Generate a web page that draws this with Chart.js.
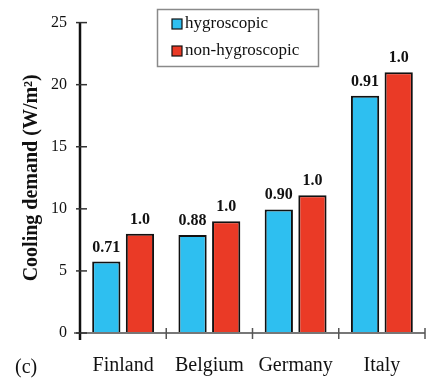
<!DOCTYPE html>
<html>
<head>
<meta charset="utf-8">
<script src="https://cdn.jsdelivr.net/npm/chart.js@4/dist/chart.umd.min.js"></script>
<style>
  html, body { margin: 0; padding: 0; background: #fff; }
  #wrap { width: 429px; height: 379px; }
</style>
</head>
<body>
<div id="wrap"><canvas id="cooling" width="429" height="379"></canvas></div>
<script>
// data
const countries = ["Finland", "Belgium", "Germany", "Italy"]
const hygroscopic = [5.75, 7.9, 9.95, 19.1]
const non_hygroscopic = [8.0, 9.0, 11.1, 21.0]
const hygro_labels = ["0.71", "0.88", "0.90", "0.91"]
const non_hygro_labels = ["1.0", "1.0", "1.0", "1.0"]
const y_ticks = [0, 5, 10, 15, 20, 25]

const serif = "'Liberation Serif', 'Times New Roman', serif"
const blue = "#2ebff0"
const red = "#ea3a26"

// value labels, axis ticks, legend box and panel letter
const extras = {
    id: "extras",
    afterDraw(chart) {
        const ctx = chart.ctx
        const area = chart.chartArea
        const x = chart.scales.x
        const y = chart.scales.y
        ctx.save()

        // x axis line, starts a little left of the y axis
        ctx.strokeStyle = "#777"
        ctx.lineWidth = 2
        ctx.beginPath()
        ctx.moveTo(area.left - 6, area.bottom)
        ctx.lineTo(area.right, area.bottom)
        ctx.stroke()

        // y axis line (runs a bit below the x axis)
        ctx.strokeStyle = "#111"
        ctx.lineWidth = 2.5
        ctx.beginPath()
        ctx.moveTo(area.left, area.top)
        ctx.lineTo(area.left, area.bottom + 7)
        ctx.stroke()

        // y ticks crossing the axis
        ctx.lineWidth = 1.5
        ctx.strokeStyle = "#333"
        for (let i in y_ticks) {
            let py = y.getPixelForValue(y_ticks[i])
            ctx.beginPath()
            ctx.moveTo(area.left - 4, py)
            ctx.lineTo(area.left + 7, py)
            ctx.stroke()
        }

        // x ticks at category boundaries
        ctx.strokeStyle = "#555"
        for (let i = 1; i <= countries.length; i++) {
            let px = (i < countries.length)
                ? (x.getPixelForValue(i - 1) + x.getPixelForValue(i)) / 2
                : area.right
            ctx.beginPath()
            ctx.moveTo(px, area.bottom - 5)
            ctx.lineTo(px, area.bottom + 6)
            ctx.stroke()
        }

        // values over bars
        ctx.fillStyle = "#111"
        ctx.font = "bold 16px " + serif
        ctx.textAlign = "center"
        ctx.textBaseline = "alphabetic"
        const label_sets = [hygro_labels, non_hygro_labels]
        chart.data.datasets.forEach((ds, di) => {
            chart.getDatasetMeta(di).data.forEach((bar, i) => {
                ctx.fillText(label_sets[di][i], bar.x, bar.y - 10)
            })
        })

        // legend
        ctx.strokeStyle = "#8a8a8a"
        ctx.lineWidth = 1.5
        ctx.strokeRect(157.5, 9.5, 161, 57)
        ctx.font = "17px " + serif
        ctx.textAlign = "left"
        ctx.textBaseline = "middle"
        chart.data.datasets.forEach((ds, di) => {
            let ly = 24 + di * 27
            ctx.fillStyle = ds.backgroundColor
            ctx.fillRect(172, ly - 5, 10, 10)
            ctx.strokeStyle = "#111"
            ctx.lineWidth = 1.2
            ctx.strokeRect(172, ly - 5, 10, 10)
            ctx.fillStyle = "#111"
            ctx.fillText(ds.label, 185, ly)
        })

        // panel letter
        ctx.font = "20px " + serif
        ctx.textBaseline = "alphabetic"
        ctx.fillText("(c)", 15, 373)
        ctx.restore()
    }
}

const ctx1 = document.getElementById("cooling").getContext("2d")
const myChart = new Chart(ctx1, {
    type: "bar",
    data: {
        labels: countries,
        datasets: [{
                label: "hygroscopic",
                data: hygroscopic,
                backgroundColor: blue,
                borderColor: "#111",
                borderWidth: 2,
                categoryPercentage: 0.78,
                barPercentage: 0.84
            }, {
                label: "non-hygroscopic",
                data: non_hygroscopic,
                backgroundColor: red,
                borderColor: "#111",
                borderWidth: 2,
                categoryPercentage: 0.78,
                barPercentage: 0.84
            }
        ]
    },
    options: {
        responsive: false,
        animation: false,
        layout: { padding: { left: 0, top: 11, right: 4, bottom: 0 } },
        plugins: {
            legend: { display: false },
            tooltip: { enabled: false }
        },
        scales: {
            x: {
                grid: { display: false, drawTicks: false },
                border: { display: false },
                ticks: { color: "#111", font: { family: serif, size: 20 }, padding: 21 },
                afterFit: (scale) => { scale.height = 46 }
            },
            y: {
                min: 0,
                max: 25,
                afterBuildTicks: (scale) => { scale.ticks = y_ticks.map(v => ({ value: v })) },
                grid: { display: false, drawTicks: false },
                border: { display: false },
                ticks: { color: "#111", font: { family: serif, size: 16 }, padding: 13 },
                title: {
                    display: true,
                    text: "Cooling demand (W/m²)",
                    color: "#111",
                    font: { family: serif, size: 20, weight: "bold" },
                    padding: { top: 20, bottom: 0 }
                },
                afterFit: (scale) => { scale.width = 80 }
            }
        }
    },
    plugins: [extras]
})
</script>
</body>
</html>
